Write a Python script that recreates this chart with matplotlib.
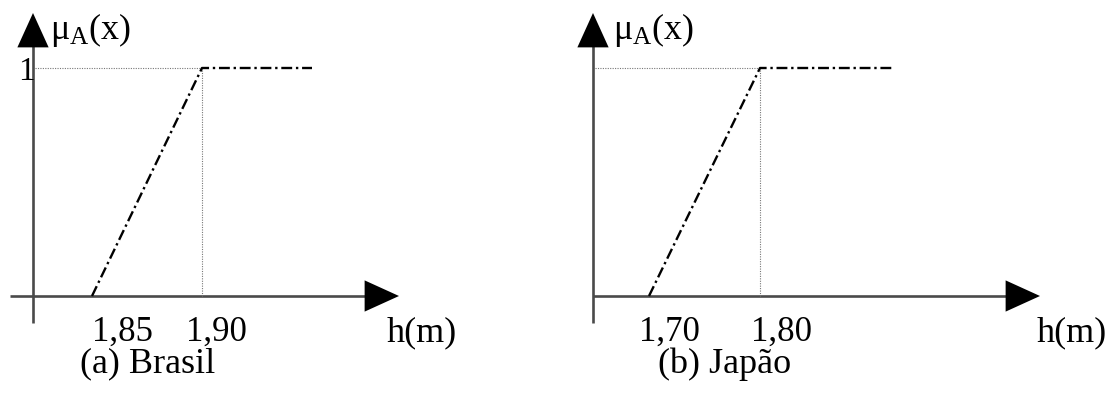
import matplotlib
matplotlib.use("Agg")
import matplotlib.pyplot as plt

# Figure size in pixels
W, H = 1112, 394
DPI = 100

plt.rcParams['font.family'] = ['Liberation Serif', 'DejaVu Serif']
plt.rcParams['mathtext.fontset'] = 'custom'
plt.rcParams['mathtext.rm'] = 'Liberation Serif'
plt.rcParams['mathtext.it'] = 'Liberation Serif'

# Membership function data (trapezoid: 0 -> 1 -> plateau)
membership = [0, 1, 1]
brasil_h = [1.85, 1.90, 1.95]
japao_h = [1.70, 1.80, 1.92]
brasil_ticks = ['1,85', '1,90']
japao_ticks = ['1,70', '1,80']
titles = ['(a) Brasil', '(b) Japão']
y_label = r'$\mathrm{μ_A(x)}$'
x_label = 'h(m)'

# Layout, in image pixels (origin top-left)
panels = [
    dict(h=brasil_h, ticks=brasil_ticks, title=titles[0],
         tick_px=(92, 202), yaxis_px=33, xaxis_from=10, xaxis_to=399,
         tick_dx=(30, 14), title_x=148, xlab_x=422, ylab_x=50, show_one=True),
    dict(h=japao_h, ticks=japao_ticks, title=titles[1],
         tick_px=(649, 760), yaxis_px=593, xaxis_from=593, xaxis_to=1040,
         tick_dx=(20, 21), title_x=725, xlab_x=1072, ylab_x=613, show_one=False),
]
zero_py, one_py = 296, 68
yaxis_top, yaxis_bottom = 13, 323

fig = plt.figure(figsize=(W / DPI, H / DPI), dpi=DPI)
fs = 25


def fp(px, py):
    """image pixel -> figure fraction"""
    return px / W, 1 - py / H


for p in panels:
    ax = fig.add_axes([0, 0, 1, 1])
    ax.patch.set_alpha(0)
    ax.axis('off')
    x0, x1 = p['h'][0], p['h'][1]
    (p0, p1) = p['tick_px']
    scale = (x1 - x0) / (p1 - p0)          # metres per pixel
    ax.set_xlim(x0 - p0 * scale, x0 + (W - p0) * scale)
    yscale = 1.0 / (zero_py - one_py)
    ax.set_ylim(-(H - zero_py) * yscale, 1 + one_py * yscale)

    # axes with arrow heads
    arrow = dict(arrowstyle='-|>,head_length=0.55,head_width=0.25', color='black',
                 lw=0, mutation_scale=45, shrinkA=0, shrinkB=0)
    ax.plot([p['xaxis_from'] / W, (p['xaxis_to'] - 20) / W], [1 - zero_py / H] * 2,
            transform=fig.transFigure, color='#4a4a4a', lw=1.9, solid_capstyle='butt')
    ax.annotate('', xy=fp(p['xaxis_to'], zero_py), xytext=fp(p['xaxis_to'] - 26, zero_py),
                xycoords='figure fraction', textcoords='figure fraction', arrowprops=arrow)
    ax.plot([p['yaxis_px'] / W] * 2, [1 - yaxis_bottom / H, 1 - (yaxis_top + 20) / H],
            transform=fig.transFigure, color='#4a4a4a', lw=1.9, solid_capstyle='butt')
    ax.annotate('', xy=fp(p['yaxis_px'], yaxis_top), xytext=fp(p['yaxis_px'], yaxis_top + 24),
                xycoords='figure fraction', textcoords='figure fraction', arrowprops=arrow)

    # dotted guides to the peak
    xa = ax.get_xlim()[0] + p['yaxis_px'] * scale
    peak = p['h'][1]
    ax.plot([xa + 2 * scale, peak], [1, 1], linestyle=(0, (1, 1.2)), color='#777777', lw=0.8)
    ax.plot([peak, peak], [0, 1], linestyle=(0, (1, 1.2)), color='#777777', lw=0.8)

    # membership function
    ax.plot(p['h'], membership, color='black', lw=1.7,
            linestyle=(0, (4.6, 1.6, 1.0, 1.6)))

    # tick labels
    for val, lab, dx in zip(p['h'][:2], p['ticks'], p['tick_dx']):
        ax.annotate(lab, xy=(val, 0), xytext=(dx, -36), textcoords='offset pixels',
                    ha='center', va='center', fontsize=fs)

    fig.text(*fp(p['xlab_x'], 333), x_label, ha='center', va='center', fontsize=fs + 1)
    fig.text(*fp(p['title_x'], 364), p['title'], ha='center', va='center', fontsize=fs + 1)
    fig.text(*fp(p['ylab_x'], 30), y_label, ha='left', va='center', fontsize=26)
    if p['show_one']:
        fig.text(*fp(26, 72), '1', ha='center', va='center', fontsize=24)

fig.savefig('out.png', dpi=DPI, facecolor='white')
